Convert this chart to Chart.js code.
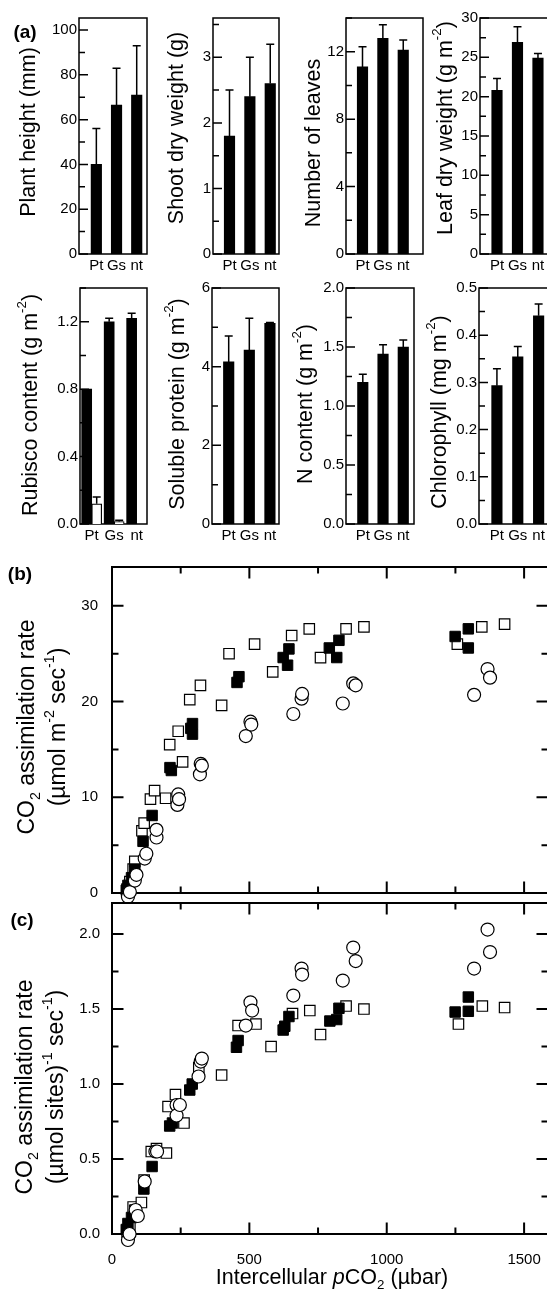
<!DOCTYPE html>
<html>
<head>
<meta charset="utf-8">
<title>Growth, leaf composition and CO2 assimilation</title>
<script src="https://cdn.jsdelivr.net/npm/chart.js@4.4.1/dist/chart.umd.min.js"></script>
<style>
  html, body { margin: 0; padding: 0; background: #fff; }
  #fig {
    position: relative; width: 547px; height: 1293px; overflow: hidden; background: #fff;
    font-family: "Liberation Sans", Arial, Helvetica, sans-serif; color: #000;
  }
  #fig canvas { position: absolute; }
  .ytitle {
    position: absolute; white-space: nowrap; font-size: 21.5px; line-height: 1;
    transform: translate(-50%, -50%) rotate(-90deg);
  }
  .ytitle.two { font-size: 23px; line-height: 28px; text-align: center; }
  .xtitle { position: absolute; white-space: nowrap; font-size: 21.5px; line-height: 1; transform: translate(-50%, -50%); }
  .plabel { position: absolute; font-weight: bold; font-size: 19px; line-height: 1; transform: translate(-50%, -50%); }
  sup { font-size: 62%; vertical-align: baseline; position: relative; top: -0.8em; }
  sub { font-size: 62%; vertical-align: baseline; position: relative; top: 0.4em; }
</style>
</head>
<body>
<div id="fig">
  <canvas id="plant"></canvas>
  <canvas id="shoot"></canvas>
  <canvas id="leaves"></canvas>
  <canvas id="leafdw"></canvas>
  <canvas id="rubisco"></canvas>
  <canvas id="protein"></canvas>
  <canvas id="nitrogen"></canvas>
  <canvas id="chl"></canvas>
  <canvas id="rateArea"></canvas>
  <canvas id="rateSite"></canvas>

  <div class="ytitle" style="left:29px;top:132px">Plant height (mm)</div>
  <div class="ytitle" style="left:177px;top:128px">Shoot dry weight (g)</div>
  <div class="ytitle" style="left:314px;top:143px">Number of leaves</div>
  <div class="ytitle" style="left:446px;top:128px">Leaf dry weight (g m<sup>-2</sup>)</div>
  <div class="ytitle" style="left:31px;top:405px">Rubisco content (g m<sup>-2</sup>)</div>
  <div class="ytitle" style="left:178px;top:404px">Soluble protein (g m<sup>-2</sup>)</div>
  <div class="ytitle" style="left:306px;top:404px">N content (g m<sup>-2</sup>)</div>
  <div class="ytitle" style="left:440px;top:412px">Chlorophyll (mg m<sup>-2</sup>)</div>
  <div class="ytitle two" style="left:43px;top:727px">CO<sub>2</sub> assimilation rate<br>(µmol m<sup>-2</sup> sec<sup>-1</sup>)</div>
  <div class="ytitle two" style="left:41px;top:1087px">CO<sub>2</sub> assimilation rate<br>(µmol sites)<sup>-1</sup> sec<sup>-1</sup>)</div>
  <div class="xtitle" style="left:332px;top:1278px">Intercellular <i>p</i>CO<sub>2</sub> (µbar)</div>

  <div class="plabel" style="left:25px;top:31px">(a)</div>
  <div class="plabel" style="left:20px;top:573px">(b)</div>
  <div class="plabel" style="left:22px;top:919px">(c)</div>
</div>

<script>
// ── Panel (a): means and error (upper whisker) per line ───────────────
const CATS = ['Pt', 'Gs', 'nt'];

const plantHeight      = [40, 66.5, 71];
const plantHeightErr   = [16, 16.5, 22];
const shootDw          = [1.8, 2.4, 2.6];
const shootDwErr       = [0.7, 0.6, 0.6];
const leafNumber       = [11.1, 12.8, 12.1];
const leafNumberErr    = [1.2, 0.8, 0.6];
const leafDw           = [20.8, 26.9, 24.9];
const leafDwErr        = [1.5, 2.0, 0.6];
const rubiscoTotal     = [0.8, 1.2, 1.22];
const rubiscoTotalErr  = [0, 0.02, 0.03];
const rubiscoForeign   = [0.12, 0.015, null];
const rubiscoForeignErr = [0.04, 0.007, null];
const solubleProtein   = [4.12, 4.42, 5.1];
const solubleProteinErr = [0.66, 0.81, 0.02];
const nContent         = [1.2, 1.44, 1.5];
const nContentErr      = [0.07, 0.08, 0.06];
const chlorophyll      = [0.293, 0.354, 0.441];
const chlorophyllErr   = [0.036, 0.022, 0.025];

const plantHeightTicks    = [0, 20, 40, 60, 80, 100];
const shootDwTicks        = [0, 1, 2, 3];
const leafNumberTicks     = [0, 4, 8, 12];
const leafDwTicks         = [0, 5, 10, 15, 20, 25, 30];
const rubiscoTicks        = [0, 0.4, 0.8, 1.2];
const solubleProteinTicks = [0, 2, 4, 6];
const nContentTicks       = [0, 0.5, 1.0, 1.5, 2.0];
const chlorophyllTicks    = [0, 0.1, 0.2, 0.3, 0.4, 0.5];

// ── Panels (b) and (c): A/Ci response, three symbol sets ──────────────
const xTicks        = [0, 500, 1000, 1500];
const areaRateTicks = [0, 10, 20, 30];
const siteRateTicks = [0, 0.5, 1.0, 1.5, 2.0];

// (b) per leaf area
const openSqXb = [55, 65, 77, 83, 109, 117, 140, 155, 195, 210, 241, 257, 283, 322, 399, 426, 519, 585, 654, 718, 759, 852, 917, 1257, 1346, 1429];
const openSqYb = [0.4, 1.2, 2.5, 3.3, 6.5, 7.3, 9.8, 10.7, 9.9, 15.5, 16.9, 13.7, 20.2, 21.7, 19.6, 25.0, 26.0, 23.1, 26.9, 27.6, 24.6, 27.6, 27.8, 26.0, 27.8, 28.1];
const fillSqXb = [52, 58, 71, 83, 113, 146, 211, 216, 287, 293, 293, 455, 462, 623, 639, 644, 791, 818, 826, 1249, 1297, 1297];
const fillSqYb = [0.3, 0.8, 1.6, 2.5, 5.4, 8.1, 13.1, 12.8, 17.2, 17.7, 16.6, 22.0, 22.6, 24.6, 23.8, 25.5, 25.6, 24.6, 26.4, 26.8, 27.6, 25.6];
const circleXb = [58, 65, 83, 89, 119, 125, 162, 162, 238, 241, 244, 320, 323, 327, 487, 504, 507, 660, 690, 692, 840, 878, 887, 1318, 1367, 1376];
const circleYb = [-0.4, 0.1, 1.3, 1.9, 3.6, 4.1, 5.8, 6.6, 9.2, 10.3, 9.8, 12.4, 13.5, 13.3, 16.4, 17.9, 17.6, 18.7, 20.3, 20.8, 19.8, 21.9, 21.7, 20.7, 23.4, 22.5];

// (c) per Rubisco site
const openSqXc = [55, 65, 77, 107, 117, 143, 162, 198, 204, 231, 262, 316, 399, 459, 524, 579, 657, 720, 759, 852, 917, 1261, 1348, 1429];
const openSqYc = [0.01, 0.06, 0.18, 0.21, 0.36, 0.55, 0.57, 0.54, 0.85, 0.93, 0.74, 1.11, 1.06, 1.39, 1.40, 1.25, 1.47, 1.49, 1.33, 1.52, 1.50, 1.40, 1.52, 1.51];
const fillSqXc = [52, 58, 71, 83, 116, 146, 210, 220, 283, 292, 453, 459, 623, 629, 644, 793, 818, 826, 1249, 1297, 1297];
const fillSqYc = [0.03, 0.07, 0.11, 0.16, 0.30, 0.45, 0.72, 0.74, 0.96, 1.00, 1.245, 1.29, 1.36, 1.385, 1.45, 1.42, 1.43, 1.505, 1.48, 1.58, 1.485];
const circleXc = [58, 64, 86, 94, 119, 158, 164, 235, 235, 247, 315, 323, 327, 487, 504, 510, 660, 690, 692, 840, 878, 887, 1318, 1367, 1376];
const circleYc = [-0.04, 0.0, 0.16, 0.12, 0.35, 0.55, 0.55, 0.86, 0.79, 0.86, 1.05, 1.15, 1.17, 1.39, 1.545, 1.49, 1.59, 1.77, 1.73, 1.69, 1.91, 1.82, 1.77, 2.03, 1.88];

// ── Shared style ──────────────────────────────────────────────────────
const BLACK = '#000';
const WHITE = '#fff';
const FONT  = '"Liberation Sans", Arial, Helvetica, sans-serif';
Chart.defaults.font.family = FONT;
Chart.defaults.color = BLACK;

// labelled ticks plus an unlabelled one halfway to the next
function tickList(major, max) {
  const step = major[1] - major[0];
  const out = major.map(v => ({ value: v, major: true }));
  major.forEach(v => {
    const m = v + step / 2;
    if (m <= max + 1e-9) out.push({ value: m, major: false });
  });
  return out.sort((a, b) => a.value - b.value);
}

// box around the plot area, ticks pointing inwards
const frameTicks = {
  id: 'frameTicks',
  beforeDatasetsDraw(chart, args, opts) {
    const { ctx, chartArea: a, scales } = chart;
    const sides = opts.sides;
    ctx.save();
    ctx.strokeStyle = BLACK;
    ctx.lineWidth = opts.lineWidth;
    ctx.strokeRect(a.left, a.top, a.right - a.left, a.bottom - a.top);
    ctx.beginPath();
    for (const t of scales.y.ticks) {
      const y = scales.y.getPixelForValue(t.value);
      const len = t.major ? opts.major : opts.minor;
      if (sides.includes('left'))  { ctx.moveTo(a.left, y);  ctx.lineTo(a.left + len, y); }
      if (sides.includes('right')) { ctx.moveTo(a.right, y); ctx.lineTo(a.right - len, y); }
    }
    if (sides.includes('top') || sides.includes('bottom')) {
      for (const t of scales.x.ticks) {
        const x = scales.x.getPixelForValue(t.value);
        const len = t.major ? opts.major : opts.minor;
        if (sides.includes('top'))    { ctx.moveTo(x, a.top);    ctx.lineTo(x, a.top + len); }
        if (sides.includes('bottom')) { ctx.moveTo(x, a.bottom); ctx.lineTo(x, a.bottom - len); }
      }
    }
    ctx.stroke();
    ctx.restore();
  },
};

// upper whisker with a short cap
const errorBars = {
  id: 'errorBars',
  afterDatasetsDraw(chart) {
    const { ctx } = chart;
    const yScale = chart.scales.y;
    ctx.save();
    ctx.strokeStyle = BLACK;
    ctx.lineWidth = 1.5;
    chart.data.datasets.forEach((ds, i) => {
      if (!ds.errors) return;
      chart.getDatasetMeta(i).data.forEach((bar, j) => {
        const v = ds.data[j].y;
        const e = ds.errors[j];
        if (v == null || !e) return;
        const top = yScale.getPixelForValue(v + e);
        ctx.beginPath();
        ctx.moveTo(bar.x, bar.y);
        ctx.lineTo(bar.x, top);
        ctx.moveTo(bar.x - 4, top);
        ctx.lineTo(bar.x + 4, top);
        ctx.stroke();
      });
    });
    ctx.restore();
  },
};

function placeCanvas(id, box, m) {
  const canvas = document.getElementById(id);
  canvas.width  = box.r - box.l + m.l + m.r;
  canvas.height = box.b - box.t + m.t + m.b;
  canvas.style.left = (box.l - m.l) + 'px';
  canvas.style.top  = (box.t - m.t) + 'px';
  return canvas;
}

// no grid, no outward tick marks: the frame plugin draws the ticks
const noGrid = { display: false, drawTicks: false };

// ── Bar panels ────────────────────────────────────────────────────────
function barPanel(id, box, cfg) {
  const m = { l: 60, t: 14, r: 14, b: 30 };
  const canvas = placeCanvas(id, box, m);
  const datasets = cfg.series.map(s => ({
    data: CATS.map((c, i) => ({ x: i + 1, y: s.values[i] })),
    errors: s.errors,
    backgroundColor: s.fill,
    borderColor: BLACK,
    borderWidth: s.fill === WHITE ? 1.2 : 0,
    barThickness: cfg.thickness || 10.5,
  }));

  return new Chart(canvas, {
    type: 'bar',
    data: { datasets },
    options: {
      responsive: false,
      animation: false,
      devicePixelRatio: 1,
      events: [],
      layout: { padding: { top: m.t, right: m.r, left: 0, bottom: 0 } },
      plugins: {
        legend: { display: false },
        tooltip: { enabled: false },
        frameTicks: { sides: ['left'], major: 9, minor: 6, lineWidth: 1.5 },
      },
      scales: {
        x: {
          type: 'linear', offset: false,
          min: cfg.xRange[0], max: cfg.xRange[1],
          grid: noGrid, border: { display: false },
          afterBuildTicks: s => { s.ticks = CATS.map((c, i) => ({ value: i + 1 })); },
          afterFit: s => { s.height = m.b; },
          ticks: {
            autoSkip: false, maxRotation: 0, padding: 3,
            font: { size: 15 },
            callback: (v, i) => CATS[i],
          },
        },
        y: {
          type: 'linear', min: 0, max: cfg.yMax,
          grid: noGrid, border: { display: false },
          afterBuildTicks: s => { s.ticks = tickList(cfg.ticks, cfg.yMax); },
          afterFit: s => { s.width = m.l; },
          ticks: {
            autoSkip: false, padding: 2,
            font: { size: 15 },
            callback: (v, i, ticks) => ticks[i].major ? v.toFixed(cfg.decimals) : '',
          },
        },
      },
    },
    plugins: [frameTicks, errorBars],
  });
}

const ROW1 = { t: 18, b: 254 };
const ROW2 = { t: 288, b: 524 };

barPanel('plant', { l: 79, r: 147, ...ROW1 }, {
  series: [{ values: plantHeight, errors: plantHeightErr, fill: BLACK }],
  ticks: plantHeightTicks, yMax: 105.4, decimals: 0, xRange: [0.14, 3.51],
});
barPanel('shoot', { l: 213, r: 279, ...ROW1 }, {
  series: [{ values: shootDw, errors: shootDwErr, fill: BLACK }],
  ticks: shootDwTicks, yMax: 3.6, decimals: 0, xRange: [0.19, 3.43],
});
barPanel('leaves', { l: 346, r: 423, ...ROW1 }, {
  series: [{ values: leafNumber, errors: leafNumberErr, fill: BLACK }],
  ticks: leafNumberTicks, yMax: 14, decimals: 0, xRange: [0.19, 3.97],
});
barPanel('leafdw', { l: 480, r: 548, ...ROW1 }, {
  series: [{ values: leafDw, errors: leafDwErr, fill: BLACK }],
  ticks: leafDwTicks, yMax: 30, decimals: 0, xRange: [0.17, 3.49],
});
barPanel('rubisco', { l: 80, r: 147, ...ROW2 }, {
  series: [
    { values: rubiscoTotal, errors: rubiscoTotalErr, fill: BLACK },
    { values: rubiscoForeign, errors: rubiscoForeignErr, fill: WHITE },
  ],
  thickness: 10,
  ticks: rubiscoTicks, yMax: 1.4, decimals: 1, xRange: [0.48, 3.46],
});
barPanel('protein', { l: 212, r: 279, ...ROW2 }, {
  series: [{ values: solubleProtein, errors: solubleProteinErr, fill: BLACK }],
  ticks: solubleProteinTicks, yMax: 6, decimals: 0, xRange: [0.19, 3.44],
});
barPanel('nitrogen', { l: 346, r: 414, ...ROW2 }, {
  series: [{ values: nContent, errors: nContentErr, fill: BLACK }],
  ticks: nContentTicks, yMax: 2, decimals: 1, xRange: [0.17, 3.53],
});
barPanel('chl', { l: 479, r: 548, ...ROW2 }, {
  series: [{ values: chlorophyll, errors: chlorophyllErr, fill: BLACK }],
  ticks: chlorophyllTicks, yMax: 0.5, decimals: 1, xRange: [0.14, 3.45],
});

// ── Scatter panels ────────────────────────────────────────────────────
const X_MAX = 1587;

function symbolSets(cx, cy, fx, fy, ox, oy) {
  const pts = (xs, ys) => xs.map((x, i) => ({ x, y: ys[i] }));
  // first dataset is painted last, so circles sit on top
  return [
    { data: pts(cx, cy), pointStyle: 'circle', pointRadius: 6.5,
      backgroundColor: WHITE, borderColor: BLACK, borderWidth: 1.2, clip: false },
    { data: pts(fx, fy), pointStyle: 'rect', pointRadius: 7.4,
      backgroundColor: BLACK, borderColor: BLACK, borderWidth: 1, clip: false },
    { data: pts(ox, oy), pointStyle: 'rect', pointRadius: 7.4,
      backgroundColor: WHITE, borderColor: BLACK, borderWidth: 1.2, clip: false },
  ];
}

function scatterPanel(id, box, cfg) {
  const m = { l: box.l, t: 14, r: 14, b: cfg.showX ? 44 : 20 };
  const canvas = placeCanvas(id, box, m);
  return new Chart(canvas, {
    type: 'scatter',
    data: { datasets: cfg.datasets },
    options: {
      responsive: false,
      animation: false,
      devicePixelRatio: 1,
      events: [],
      layout: { padding: { top: m.t, right: m.r, left: 0, bottom: 0 } },
      plugins: {
        legend: { display: false },
        tooltip: { enabled: false },
        frameTicks: { sides: ['left', 'right', 'top', 'bottom'], major: 11.5, minor: 6.5, lineWidth: 2 },
      },
      scales: {
        x: {
          type: 'linear', min: 0, max: X_MAX,
          grid: noGrid, border: { display: false },
          afterBuildTicks: s => { s.ticks = tickList(xTicks, X_MAX); },
          afterFit: s => { s.height = m.b; },
          ticks: {
            display: cfg.showX, autoSkip: false, maxRotation: 0, padding: 17,
            font: { size: 15 },
            callback: (v, i, ticks) => ticks[i].major ? String(v) : '',
          },
        },
        y: {
          type: 'linear', min: 0, max: cfg.yMax,
          grid: noGrid, border: { display: false },
          afterBuildTicks: s => { s.ticks = tickList(cfg.yTicks, cfg.yMax); },
          afterFit: s => { s.width = m.l; },
          ticks: {
            autoSkip: false, padding: cfg.yPad,
            font: { size: 15 },
            callback: (v, i, ticks) => ticks[i].major ? v.toFixed(cfg.decimals) : '',
          },
        },
      },
    },
    plugins: [frameTicks],
  });
}

scatterPanel('rateArea', { l: 112, t: 558, r: 548, b: 896 }, {
  yMax: 34.06, yTicks: areaRateTicks, decimals: 0, yPad: 14, showX: false,
  datasets: symbolSets(circleXb, circleYb, fillSqXb, fillSqYb, openSqXb, openSqYb),
});
scatterPanel('rateSite', { l: 112, t: 896, r: 548, b: 1234 }, {
  yMax: 2.207, yTicks: siteRateTicks, decimals: 1, yPad: 12, showX: true,
  datasets: symbolSets(circleXc, circleYc, fillSqXc, fillSqYc, openSqXc, openSqYc),
});
</script>
</body>
</html>
